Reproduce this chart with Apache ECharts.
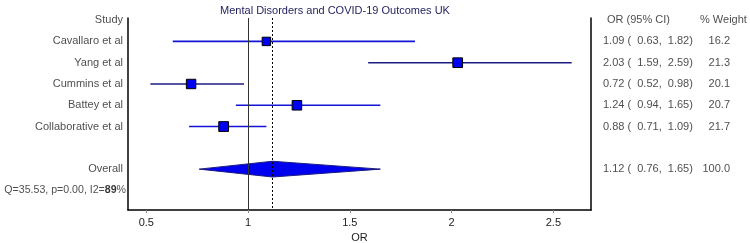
<!DOCTYPE html>
<html>
<head>
<meta charset="utf-8">
<script src="https://cdn.jsdelivr.net/npm/echarts@6/dist/echarts.min.js"></script>
<style>
  html, body { margin: 0; padding: 0; background: #fff; }
  #chart { width: 750px; height: 243px; }
</style>
</head>
<body>
<div id="chart"></div>
<script>
// study data (rows 1..5), overall (row 7)
var studies = ['Cavallaro et al', 'Yang et al', 'Cummins et al', 'Battey et al', 'Collaborative et al'];
var orVals = [1.09, 2.03, 0.72, 1.24, 0.88];
var ciLow = [0.63, 1.59, 0.52, 0.94, 0.71];
var ciHigh = [1.82, 2.59, 0.98, 1.65, 1.09];
var weights = [16.2, 21.3, 20.1, 20.7, 21.7];
var overall = { or: 1.12, lo: 0.76, hi: 1.65, weight: 100.0 };
var headers = ['Study', 'OR (95% CI)', '% Weight'];
var hetText = ['Q=35.53, p=0.00, I2=', '89', '%'];

var lineColors = ['#1414d8', '#1c1c80', '#1c1c80', '#1414d8', '#1414d8'];
var font = 'Liberation Sans, Arial, sans-serif';
var xMin = 0.41, xMax = 2.685;

function fmt(v) { return v.toFixed(2); }

var studyRows = studies.map(function (s, i) { return i + 1; });
var overallRow = 7;

// left side labels
var leftLabels = [{ value: [xMin, 0], name: headers[0] }];
studies.forEach(function (s, i) { leftLabels.push({ value: [xMin, studyRows[i]], name: s }); });
leftLabels.push({ value: [xMin, overallRow], name: 'Overall' });

// right side table
var orCol = [];
var wCol = [];
studies.forEach(function (s, i) {
  orCol.push({ value: [xMax, studyRows[i]], name: fmt(orVals[i]) + ' (  ' + fmt(ciLow[i]) + ',  ' + fmt(ciHigh[i]) + ')' });
  wCol.push({ value: [xMax, studyRows[i]], name: weights[i].toFixed(1) });
});
orCol.push({ value: [xMax, overallRow], name: fmt(overall.or) + ' (  ' + fmt(overall.lo) + ',  ' + fmt(overall.hi) + ')' });
wCol.push({ value: [xMax, overallRow], name: overall.weight.toFixed(1) });

var studyData = studies.map(function (s, i) {
  return [orVals[i], ciLow[i], ciHigh[i], studyRows[i], weights[i], i];
});

var chart = echarts.init(document.getElementById('chart'));
var textStyle = { fontFamily: font, fontSize: 11, color: '#222' };

chart.setOption({
  animation: false,
  backgroundColor: '#fff',
  title: {
    text: 'Mental Disorders and COVID-19 Outcomes UK',
    left: 330, top: 0, textAlign: 'center',
    textStyle: { fontFamily: font, fontSize: 11, fontWeight: 'normal', color: '#1f1f5c' }
  },
  grid: { left: 128, right: 159, top: 18, bottom: 33, outerBoundsMode: 'none', containLabel: false },
  xAxis: {
    type: 'value', min: xMin, max: xMax, splitNumber: 5,
    name: 'OR', nameLocation: 'middle', nameGap: 21,
    nameTextStyle: textStyle,
    axisLine: { onZero: false, lineStyle: { color: '#000', width: 1.5 } },
    axisTick: { length: 3, lineStyle: { color: '#888' } },
    axisLabel: { showMinLabel: false, showMaxLabel: false, margin: 7, fontFamily: font, fontSize: 11, color: '#222' },
    splitLine: { show: false }
  },
  yAxis: [{
    type: 'value', inverse: true, min: -0.1, max: 8.92,
    axisLine: { show: true, onZero: false, lineStyle: { color: '#000', width: 1.5 } },
    axisTick: { show: false }, axisLabel: { show: false }, splitLine: { show: false }
  }, {
    type: 'value', inverse: true, min: -0.1, max: 8.92, position: 'right',
    axisLine: { show: true, onZero: false, lineStyle: { color: '#000', width: 1.5 } },
    axisTick: { show: false }, axisLabel: { show: false }, splitLine: { show: false }
  }],
  series: [{
    type: 'custom',
    data: studyData,
    z: 3,
    renderItem: function (params, api) {
      var row = api.value(3);
      var p0 = api.coord([api.value(1), row]);
      var p1 = api.coord([api.value(2), row]);
      var c = api.coord([api.value(0), row]);
      var s = 2.1 * Math.sqrt(api.value(4));
      return {
        type: 'group',
        children: [{
          type: 'line',
          shape: { x1: p0[0], y1: p0[1], x2: p1[0], y2: p1[1] },
          style: { stroke: lineColors[api.value(5)], lineWidth: 1.6 }
        }, {
          type: 'rect',
          shape: { x: c[0] - s / 2, y: c[1] - s / 2, width: s, height: s },
          style: { fill: '#0000f0', stroke: '#000', lineWidth: 1 }
        }]
      };
    },
    markLine: {
      silent: true, symbol: 'none', label: { show: false },
      data: [
        { xAxis: 1, lineStyle: { color: '#333', width: 1, type: 'solid' } },
        { xAxis: overall.or, lineStyle: { color: '#000', width: 1, type: [2, 2] } }
      ]
    }
  }, {
    type: 'custom',
    data: [[overall.or, overall.lo, overall.hi, overallRow]],
    z: 2,
    renderItem: function (params, api) {
      var row = api.value(3);
      var h = 0.37;
      var a = api.coord([api.value(1), row]);
      var t = api.coord([api.value(0), row - h]);
      var b = api.coord([api.value(2), row]);
      var u = api.coord([api.value(0), row + h]);
      return {
        type: 'polygon',
        shape: { points: [a, t, b, u] },
        style: { fill: '#0000f0', stroke: '#1c1c80', lineWidth: 1 }
      };
    }
  }, {
    type: 'scatter', symbolSize: 0, data: leftLabels,
    label: { show: true, position: 'left', distance: 5, formatter: '{b}', fontFamily: font, fontSize: 11, color: '#222' }
  }, {
    type: 'scatter', symbolSize: 0, data: orCol,
    label: { show: true, position: [12, 0], verticalAlign: 'middle', formatter: '{b}', fontFamily: font, fontSize: 11, color: '#222' }
  }, {
    type: 'scatter', symbolSize: 0, data: wCol,
    label: { show: true, position: [139, 0], align: 'right', verticalAlign: 'middle', formatter: '{b}', fontFamily: font, fontSize: 11, color: '#222' }
  }, {
    type: 'scatter', symbolSize: 0,
    data: [{ value: [xMax, 0], name: headers[1] }],
    label: { show: true, position: [16, 0], verticalAlign: 'middle', formatter: '{b}', fontFamily: font, fontSize: 11, color: '#222' }
  }, {
    type: 'scatter', symbolSize: 0,
    data: [{ value: [xMax, 0], name: headers[2] }],
    label: { show: true, position: [109, 0], verticalAlign: 'middle', formatter: '{b}', fontFamily: font, fontSize: 11, color: '#222' }
  }, {
    type: 'scatter', symbolSize: 0, data: [{ value: [xMin, 8], name: 'het' }],
    label: {
      show: true, position: 'left', distance: 2, color: '#222',
      formatter: '{a|' + hetText[0] + '}{b|' + hetText[1] + '}{a|' + hetText[2] + '}',
      rich: {
        a: { fontFamily: font, fontSize: 10.6, color: '#222' },
        b: { fontFamily: font, fontSize: 10.6, fontWeight: 'bold', color: '#000' }
      }
    }
  }]
});
</script>
</body>
</html>
